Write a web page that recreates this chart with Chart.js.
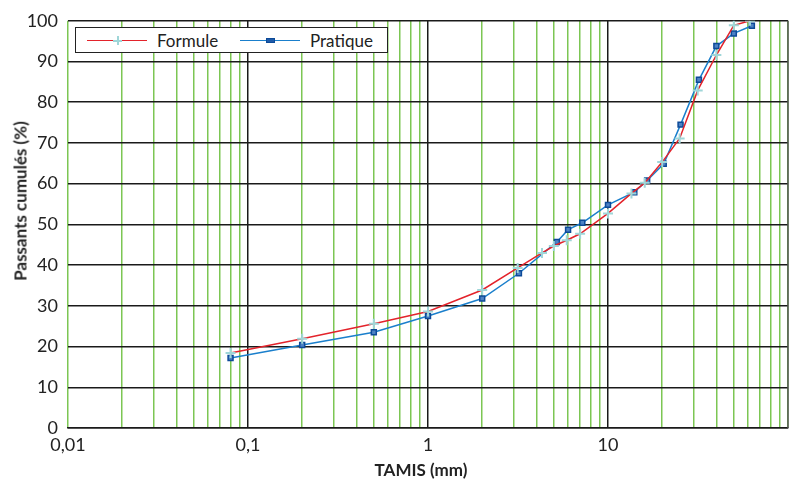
<!DOCTYPE html>
<html>
<head>
<meta charset="utf-8">
<script src="https://cdn.jsdelivr.net/npm/chart.js@4/dist/chart.umd.min.js"></script>
<style>
  html, body { margin: 0; padding: 0; background: #fff; }
  #wrap { position: relative; width: 790px; height: 481px; font-family: Lato, "Open Sans", sans-serif; color: #222; }
  #c { position: absolute; left: 0; top: 0; }
  .ytitle { position: absolute; left: 20px; top: 201px; transform: translate(-50%, -50%) rotate(-90deg); white-space: nowrap; font-weight: bold; font-size: 17px; }
  .xtitle { position: absolute; left: 421px; top: 469px; transform: translate(-50%, -50%); white-space: nowrap; font-weight: bold; font-size: 17px; }
  #legend { position: absolute; left: 75px; top: 27px; width: 311px; height: 24px; border: 1px solid #222; background: #fff; }
  .lline { position: absolute; top: 12px; width: 60px; height: 0; }
  .ltext { position: absolute; top: 0; line-height: 25px; font-size: 17px; }
  .cross { position: absolute; width: 9px; height: 9px; top: 8px; }
  .cross:before, .cross:after { content: ""; position: absolute; background: #9fd6d8; }
  .cross:before { left: 3.5px; top: 0; width: 2px; height: 9px; }
  .cross:after { top: 3.5px; left: 0; height: 2px; width: 9px; }
  .sq { position: absolute; top: 10px; width: 9px; height: 5px; background: #1e5aa8; box-sizing: border-box; border: 1px solid #0d4a98; }
</style>
</head>
<body>
<div id="wrap">
  <canvas id="c" width="790" height="481"></canvas>
  <div class="ytitle">Passants cumulés (%)</div>
  <div class="xtitle">TAMIS (mm)</div>
  <div id="legend">
    <div class="lline" style="left:11px; border-top:1.5px solid #e3232b;"></div>
    <div class="cross" style="left:37px;"></div>
    <div class="ltext" style="left:81px;">Formule</div>
    <div class="lline" style="left:164px; border-top:1.5px solid #1a7fcc;"></div>
    <div class="sq" style="left:190px;"></div>
    <div class="ltext" style="left:234px;">Pratique</div>
  </div>
</div>
<script>
// ---- data ----
const formuleX = [0.08, 0.2, 0.5, 1, 2, 3.15, 4.3, 5, 5.9, 7, 10, 13.5, 16, 20, 25, 31.5, 40, 50, 61.5];
const formuleY = [18.4, 21.9, 25.6, 28.6, 33.9, 39.3, 43.0, 44.7, 46.1, 47.7, 52.7, 57.6, 60.2, 65.3, 71.1, 82.9, 91.6, 98.9, 100];
const pratiqueX = [0.08, 0.2, 0.5, 1, 2, 3.2, 5.2, 6, 7.2, 10, 14, 16.5, 20.4, 25.3, 32, 40, 50, 63];
const pratiqueY = [17.2, 20.4, 23.5, 27.5, 31.8, 38.0, 45.7, 48.7, 50.4, 54.8, 57.9, 60.8, 64.9, 74.5, 85.5, 93.8, 96.9, 98.8];
const xLabelDecades = [0.01, 0.1, 1, 10];
const xLabelText = ['0,01', '0,1', '1', '10'];
const yTicks = [0, 10, 20, 30, 40, 50, 60, 70, 80, 90, 100];

// tick positions for the log grid (1..9 x 10^n)
const xGridTicks = [];
for (let e = -2; e <= 1; e++) {
  for (let m = 1; m <= 9; m++) xGridTicks.push(+(m * Math.pow(10, e)).toPrecision(3));
}
xGridTicks.push(100);

const isDecadeBlack = v => [0.1, 1, 10].some(d => Math.abs(v - d) < 1e-9);

// keep the plot area right edge at 2px from the canvas edge
const fixArea = {
  id: 'fixArea',
  afterLayout(chart) {
    const right = chart.width - 2;
    const a = chart.chartArea;
    a.right = right;
    a.width = a.right - a.left;
    const x = chart.scales.x;
    x.right = right;
    x.width = x.right - x.left;
    x.configure();
  }
};

const frame = {
  id: 'frame',
  afterDraw(chart) {
    const { ctx, chartArea: a } = chart;
    ctx.save();
    ctx.strokeStyle = '#555';
    ctx.lineWidth = 1.5;
    ctx.beginPath();
    ctx.moveTo(a.right, a.top);
    ctx.lineTo(a.right, a.bottom);
    ctx.stroke();
    ctx.restore();
  }
};

new Chart(document.getElementById('c'), {
  type: 'line',
  data: {
    datasets: [
      {
        label: 'Formule',
        data: formuleX.map((x, i) => ({ x, y: formuleY[i] })),
        borderColor: '#e3232b',
        borderWidth: 1.5,
        pointStyle: 'cross',
        pointRadius: 5,
        pointBorderColor: '#9fd6d8',
        pointBorderWidth: 2,
        tension: 0,
        fill: false
      },
      {
        label: 'Pratique',
        data: pratiqueX.map((x, i) => ({ x, y: pratiqueY[i] })),
        borderColor: '#1a7fcc',
        borderWidth: 1.5,
        pointStyle: 'rect',
        pointRadius: 3.5,
        pointBackgroundColor: '#4d82c4',
        pointBorderColor: '#0d4a98',
        pointBorderWidth: 1.5,
        tension: 0,
        fill: false
      }
    ]
  },
  options: {
    responsive: false,
    animation: false,
    layout: { padding: { left: 0, right: 2, top: 19, bottom: 0 } },
    plugins: { legend: { display: false }, tooltip: { enabled: false } },
    scales: {
      x: {
        type: 'logarithmic',
        min: 0.01,
        max: 100,
        afterBuildTicks: s => { s.ticks = xGridTicks.map(v => ({ value: v })); },
        afterFit: s => { s.height = 53; s.paddingLeft = 0; s.paddingRight = 0; },
        ticks: {
          autoSkip: false,
          maxRotation: 0,
          padding: 6,
          color: '#222',
          font: { family: 'Lato', size: 18 },
          callback: v => {
            const i = xLabelDecades.findIndex(d => Math.abs(v - d) < 1e-9);
            return i >= 0 ? xLabelText[i] : '';
          }
        },
        grid: {
          drawTicks: false,
          lineWidth: 1.5,
          color: c => (c.tick && isDecadeBlack(c.tick.value)) ? '#1a1a1a' : '#7cc653'
        },
        border: { display: true, color: '#1a1a1a', width: 1.5 }
      },
      y: {
        min: 0,
        max: 100,
        afterBuildTicks: s => { s.ticks = yTicks.map(v => ({ value: v })); },
        afterFit: s => { s.width = 68; },
        ticks: {
          padding: 10,
          color: '#222',
          font: { family: 'Lato', size: 18 }
        },
        grid: {
          drawTicks: false,
          lineWidth: 1.5,
          color: '#1a1a1a'
        },
        border: { display: false }
      }
    }
  },
  plugins: [fixArea, frame]
});
</script>
</body>
</html>
